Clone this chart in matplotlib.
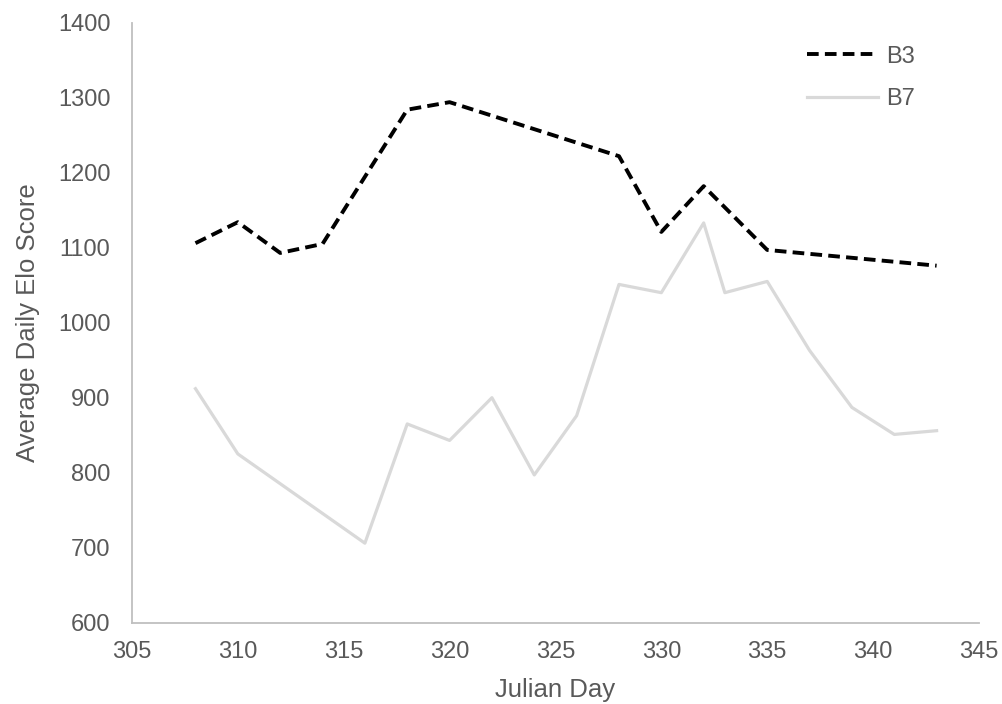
import matplotlib
matplotlib.use("Agg")
import matplotlib.pyplot as plt

plt.rcParams["font.family"] = ["Liberation Sans", "DejaVu Sans"]

# Average daily Elo score per group by Julian day
b3_days = [308, 310, 312, 314, 318, 320, 328, 330, 332, 335, 343]
b3_elo = [1106, 1134, 1093, 1105, 1284, 1294, 1222, 1121, 1182, 1097, 1076]

b7_days = [308, 310, 316, 318, 320, 322, 324, 326, 328, 330, 332, 333, 335, 337, 339, 341, 343]
b7_elo = [912, 825, 706, 865, 843, 900, 797, 876, 1051, 1040, 1133, 1040, 1055, 963, 887, 851, 856]

x_ticks = [305, 310, 315, 320, 325, 330, 335, 340, 345]
y_ticks = [600, 700, 800, 900, 1000, 1100, 1200, 1300, 1400]

text_color = "#595959"
axis_color = "#bfbfbf"

fig = plt.figure(figsize=(10.02, 7.04), dpi=100)
ax = fig.add_axes([0.1317, 0.1155, 0.8453, 0.8523])

ax.plot(b3_days, b3_elo, color="black", linewidth=2.8,
        linestyle=(0, (3.0, 1.6)), label="B3", solid_joinstyle="miter")
ax.plot(b7_days, b7_elo, color="#d9d9d9", linewidth=2.3, label="B7")

ax.set_xlim(305, 345)
ax.set_ylim(600, 1400)
ax.set_xticks(x_ticks)
ax.set_yticks(y_ticks)

for side in ("top", "right"):
    ax.spines[side].set_visible(False)
for side in ("left", "bottom"):
    ax.spines[side].set_color(axis_color)
    ax.spines[side].set_linewidth(1.3)

ax.tick_params(axis="both", length=0, labelsize=17, labelcolor=text_color)
ax.tick_params(axis="x", pad=13)
ax.tick_params(axis="y", pad=15.5)

ax.set_xlabel("Julian Day", fontsize=18.5, color=text_color, labelpad=11)
ax.set_ylabel("Average Daily Elo Score", fontsize=18.5, color=text_color, labelpad=13)

leg = fig.legend(loc="upper left", bbox_to_anchor=(0.8054, 0.935), frameon=False,
                 fontsize=17, handlelength=3.0, handletextpad=0.35,
                 labelspacing=0.87, borderpad=0, borderaxespad=0)
for t in leg.get_texts():
    t.set_color(text_color)

fig.savefig("out.png", dpi=100)
